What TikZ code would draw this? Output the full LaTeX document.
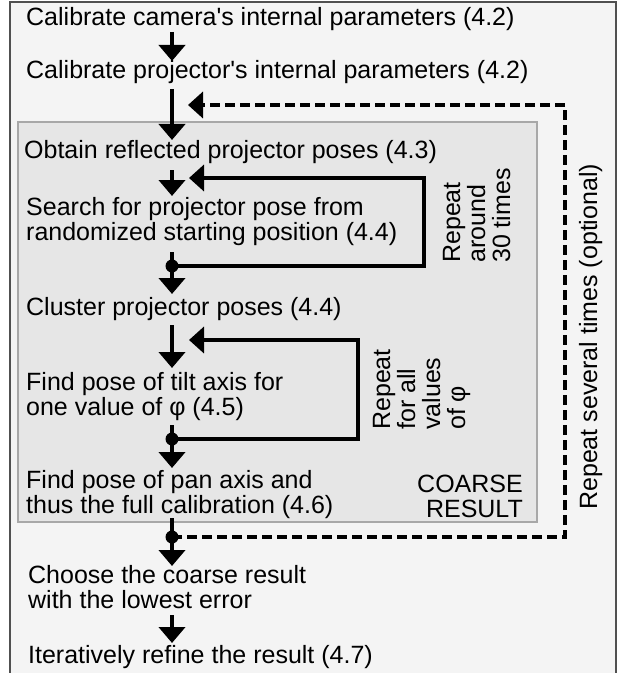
\documentclass[tikz,border=0pt]{standalone}
\usepackage{fontspec}
\newfontfamily\diagfont{Liberation Sans}
\usetikzlibrary{arrows.meta}
\definecolor{pagebg}{HTML}{F4F4F4}
\definecolor{boxfill}{HTML}{E6E6E6}
\definecolor{boxedge}{HTML}{A8A8A8}
\definecolor{framegray}{HTML}{505050}
% left- and right-aligned line stacks whose baseline is that of the first line
\newcommand\lstack[1]{\vtop{\halign{##\hfil\cr#1\crcr}}}
\newcommand\rstack[1]{\vtop{\halign{\hfil##\cr#1\crcr}}}
\begin{document}
\begin{tikzpicture}[x=1bp,y=-1bp,
  lbl/.style={inner sep=0pt, font=\diagfont\fontsize{25bp}{25bp}\selectfont, text=black},
  flow/.style={line width=4.8bp, -{Triangle[length=16bp,width=26bp]}},
  loopline/.style={line width=4.8bp, -{Triangle[length=15bp,width=26bp]}},
  dashline/.style={line width=4.6bp, dash pattern=on 10bp off 5bp, -{Triangle[length=15bp,width=26bp]}},
  joint/.style={circle, fill=black, inner sep=0pt, minimum size=13bp}]
\useasboundingbox (0,0) rectangle (619,673);
\fill[white] (0,0) rectangle (619,673);
\draw[fill=pagebg, draw=framegray, line width=1.5bp] (10,2) rectangle (616,690);
\draw[fill=boxfill, draw=boxedge, line width=1.5bp] (18,122) rectangle (537,522);

% steps
\node[lbl, anchor=base west] (cam) at (26,26) {Calibrate camera's internal parameters (4.2)};
\node[lbl, anchor=base west] (proj) at (26,79) {Calibrate projector's internal parameters (4.2)};
\node[lbl, anchor=base west] (obtain) at (24,158) {Obtain reflected projector poses (4.3)};
\node[lbl, anchor=base west] (search) at (26,215) {\lstack{Search for projector pose from\cr randomized starting position (4.4)}};
\node[lbl, anchor=base west] (cluster) at (26,315) {Cluster projector poses (4.4)};
\node[lbl, anchor=base west] (tilt) at (26,390) {\lstack{Find pose of tilt axis for\cr one value of φ (4.5)}};
\node[lbl, anchor=base west] (pan) at (26,488) {\lstack{Find pose of pan axis and\cr thus the full calibration (4.6)}};
\node[lbl, anchor=base east] (coarse) at (523,492) {\rstack{COARSE\cr RESULT}};
\node[lbl, anchor=base west] (choose) at (28,583) {\lstack{Choose the coarse result\cr with the lowest error}};
\node[lbl, anchor=base west] (refine) at (28,663) {Iteratively refine the result (4.7)};

% loop labels
\node[lbl, rotate=90, anchor=base west] (rep30) at (460,263) {\lstack{Repeat\cr around\cr 30 times}};
\node[lbl, rotate=90, anchor=base west] (repphi) at (390,430) {\lstack{Repeat\cr for all\cr values\cr of φ}};
\node[lbl, rotate=90, anchor=base west] (repsev) at (597,510) {Repeat several times (optional)};

% junction points and arrow ends
\coordinate (a1s) at (172,32);  \coordinate (a1e) at (172,61);
\coordinate (a2s) at (172,89);  \coordinate (a2e) at (172,140);
\coordinate (a3s) at (172,170); \coordinate (a3e) at (172,196);
\coordinate (a4s) at (172,252); \coordinate (a4e) at (172,294);
\coordinate (a5s) at (172,325); \coordinate (a5e) at (172,368);
\coordinate (a6s) at (172,425); \coordinate (a6e) at (172,468);
\coordinate (a7s) at (172,518); \coordinate (a7e) at (172,566);
\coordinate (a8s) at (172,615); \coordinate (a8e) at (172,643);
\node[joint] (j1) at (172,266) {};
\node[joint] (j2) at (172,439) {};
\node[joint] (j3) at (172,537) {};
\coordinate (l1in) at (189,178);
\coordinate (l2in) at (189,340);
\coordinate (l3in) at (188,105);

% main flow
\draw[flow] (a1s) -- (a1e);
\draw[flow] (a2s) -- (a2e);
\draw[flow] (a3s) -- (a3e);
\draw[flow] (a4s) -- (a4e);
\draw[flow] (a5s) -- (a5e);
\draw[flow] (a6s) -- (a6e);
\draw[flow] (a7s) -- (a7e);
\draw[flow] (a8s) -- (a8e);

% repeat loops
\draw[loopline] (j1.center) -- (424,266) -- (424,178) -- (l1in);
\draw[loopline] (j2.center) -- (358,439) -- (358,340) -- (l2in);
\draw[dashline] (j3.center) -- (565,537) -- (565,105) -- (l3in);
\end{tikzpicture}
\end{document}
